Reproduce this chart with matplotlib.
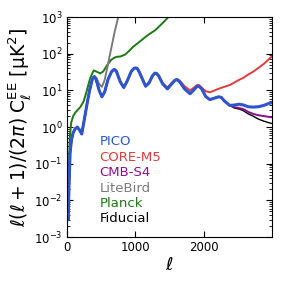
import numpy as np
import matplotlib
matplotlib.use("Agg")
import matplotlib.pyplot as plt

# fiducial EE spectrum
ell_fid = [2, 5, 10, 18, 30, 45, 65, 90, 120, 150, 180, 215, 250, 290, 330, 370,
           385, 400, 420, 440, 470, 510, 550, 600, 650, 675, 695, 720, 750, 780, 830,
           880, 940, 980, 1005, 1030, 1060, 1100, 1150, 1200, 1250, 1285, 1310,
           1340, 1400, 1470, 1530, 1580, 1610, 1650, 1720, 1800, 1860, 1900, 1930,
           1970, 2030, 2090, 2160, 2220, 2260, 2300, 2380, 2450, 2520, 2580, 2650,
           2720, 2800, 2880, 2950, 3000]
d_fid = [0.02, 0.03, 0.008, 0.003, 0.03, 0.2, 0.45, 0.7, 0.9, 1.0, 0.85, 0.65,
         1.5, 4, 10, 20, 22.5, 23.5, 21, 16, 10, 6.7, 9, 20, 32, 36, 37, 34, 24,
         17, 12, 18, 33, 40, 41, 39, 31, 21, 13, 16, 25, 29.5, 29, 25, 15, 11, 15,
         19, 19.6, 17, 11, 8.1, 10.5, 12.8, 13, 11, 6.8, 5.6, 6.2, 6.7, 6.4, 5.2,
         3.9, 3.3, 3.1, 2.8, 2.3, 2.0, 1.65, 1.45, 1.32, 1.25]

# where each experiment leaves the fiducial curve
ell_pico = [2380, 2450, 2520, 2580, 2650, 2720, 2800, 2880, 2950, 3000]
d_pico = [3.9, 4.0, 4.2, 4.0, 3.6, 3.5, 3.6, 3.9, 4.4, 4.6]

ell_s4 = [2380, 2450, 2520, 2580, 2650, 2720, 2800, 2880, 2950, 3000]
d_s4 = [3.9, 3.5, 3.3, 3.1, 2.6, 2.3, 2.1, 2.0, 1.9, 1.85]

ell_core = [1400, 1470, 1530, 1580, 1610, 1650, 1720, 1800, 1860, 1900, 1930,
            1970, 2030, 2090, 2160, 2240, 2300, 2380, 2450, 2520, 2580, 2650,
            2720, 2800, 2880, 2950, 3000]
d_core = [15.5, 12, 16, 19.5, 20.5, 18.5, 13, 10, 12, 14, 14, 12, 9.5, 8.9, 10,
          11.5, 12.5, 14, 16.5, 19.5, 22, 27, 32, 41, 53, 70, 85]

ell_lite = [330, 370, 400, 430, 470, 510, 550, 600, 650, 700, 760]
d_lite = [11, 21, 25, 22, 15, 12.5, 19, 52, 150, 420, 1200]

ell_planck = [2, 5, 10, 18, 25, 40, 60, 90, 122, 160, 194, 243, 290, 340, 390,
              440, 486, 530, 584, 640, 682, 720, 780, 851, 910, 968, 1030, 1090,
              1190, 1290, 1390, 1484, 1560]
d_planck = [0.02, 0.03, 0.01, 0.01, 0.05, 0.5, 1.3, 2.0, 2.5, 3.0, 3.5, 5, 10,
            22, 35, 32, 29, 33, 48, 66, 76, 82, 84, 95, 120, 155, 190, 234, 330,
            437, 660, 1000, 1500]

names = ["PICO", "CORE-M5", "CMB-S4", "LiteBird", "Planck", "Fiducial"]
colors = ["#2e55cc", "#e23c3c", "#8c0f8c", "#7a7a7a", "#1c7a12", "black"]


def with_fid(ell_tail, d_tail):
    ell_fid_a = np.array(ell_fid)
    keep = ell_fid_a < ell_tail[0]
    ell = np.concatenate([ell_fid_a[keep], ell_tail])
    d = np.concatenate([np.array(d_fid)[keep], d_tail])
    return ell, d


curves = {
    "Fiducial": (np.array(ell_fid), np.array(d_fid)),
    "Planck": (np.array(ell_planck), np.array(d_planck)),
    "LiteBird": with_fid(ell_lite, d_lite),
    "CMB-S4": with_fid(ell_s4, d_s4),
    "CORE-M5": with_fid(ell_core, d_core),
    "PICO": with_fid(ell_pico, d_pico),
}

fig = plt.figure(figsize=(2.84, 2.84), dpi=100)
ax = fig.add_axes([0.236, 0.165, 0.722, 0.775])

widths = {"PICO": 2.2, "Fiducial": 1.0}
for name in ["Fiducial", "Planck", "LiteBird", "CMB-S4", "CORE-M5", "PICO"]:
    ell, d = curves[name]
    c = colors[names.index(name)]
    ax.plot(ell, d, color=c, lw=widths.get(name, 1.4), label=name)

ax.set_yscale("log")
ax.set_xlim(0, 3000)
ax.set_ylim(1e-3, 1e3)
ax.set_xticks([0, 1000, 2000])
ax.tick_params(which="both", direction="in", top=True, right=True, labelsize=8.5)
ax.tick_params(which="major", length=4, pad=3)
ax.tick_params(which="minor", length=2)

ax.set_xlabel(r"$\ell$", fontsize=13, labelpad=1)
ax.set_ylabel(r"$\ell(\ell+1)/(2\pi)\;\mathrm{C}_\ell^{\mathrm{EE}}$ [μK$^2$]",
              fontsize=13.5, labelpad=1)

handles, labels = ax.get_legend_handles_labels()
order = [labels.index(n) for n in names]
leg = ax.legend([handles[i] for i in order], [labels[i] for i in order],
                loc="lower left", bbox_to_anchor=(0.1, 0.0), frameon=False,
                handlelength=0, handletextpad=0, fontsize=9.5, labelspacing=0.18)
for h in leg.legend_handles:
    h.set_visible(False)
for t, n in zip(leg.get_texts(), names):
    t.set_color(colors[names.index(n)])

fig.savefig("out.png", dpi=100)
